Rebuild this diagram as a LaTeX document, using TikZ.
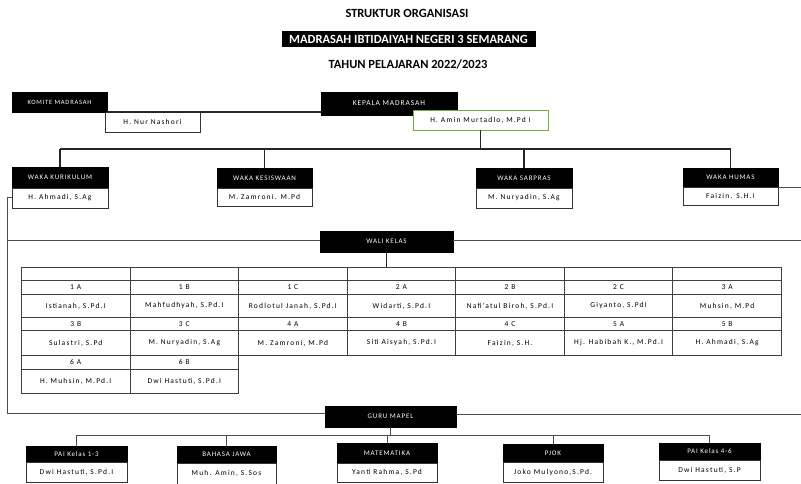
\documentclass[tikz,border=0pt]{standalone}
\usepackage{fontspec}
\setmainfont{Carlito}
\newfontfamily\spaced[LetterSpace=12]{Carlito}
\newfontfamily\wide[LetterSpace=16]{Carlito}
\usetikzlibrary{calc}
\definecolor{kgreen}{RGB}{112,173,71}
\begin{document}
\begin{tikzpicture}[x=1pt,y=-1pt,
  hdr/.style={fill=black, draw=black, text=white, inner sep=0pt, font=\fontsize{7}{8}\selectfont\spaced},
  nm/.style={fill=white, draw=black!80, line width=0.8pt, inner sep=0pt, font=\fontsize{7.5}{9}\selectfont\wide},
  cell/.style={draw=black!75, line width=0.9pt, anchor=north west, inner sep=0pt, minimum width=108.57pt, font=\fontsize{7.5}{9}\selectfont\wide},
  conn/.style={line width=1.6pt, draw=black!85},
  thin/.style={line width=1pt, draw=black!70}]
\useasboundingbox (0,0) rectangle (801,484);
% titles
\node[font=\fontsize{12.5}{14}\selectfont\bfseries] (t1) at (407,13) {STRUKTUR ORGANISASI};
\node[hdr, minimum width=253pt, minimum height=15pt, font=\fontsize{12.5}{13}\selectfont\bfseries] (t2) at (408.5,39) {MADRASAH IBTIDAIYAH NEGERI 3 SEMARANG};
\node[font=\fontsize{12.5}{14}\selectfont\bfseries] (t3) at (408,64) {TAHUN PELAJARAN 2022/2023};
% top row
\node[hdr, minimum width=95pt, minimum height=20pt, font=\fontsize{6.5}{7}\selectfont\spaced] (kom) at (59.5,102) {KOMITE MADRASAH};
\node[nm, minimum width=95pt, minimum height=20pt] (komn) at (152.5,122) {H. Nur Nashori};
\node[hdr, minimum width=136pt, minimum height=23pt, font=\fontsize{7.5}{8}\selectfont\spaced] (kep) at (389,103.5) {KEPALA MADRASAH};
\draw[conn] (kom.south east) -- (kep.west |- kom.south east);
\node[nm, draw=kgreen, minimum width=135pt, minimum height=20pt] (kepn) at (480.5,120) {H. Amin Murtadlo, M.Pd I};
% waka
\node[hdr, minimum width=96pt, minimum height=21pt] (wk1) at (60,177.5) {WAKA KURIKULUM};
\node[nm, minimum width=96pt, minimum height=20pt] (wk1n) at (60,198) {H. Ahmadi, S.Ag};
\node[hdr, minimum width=95pt, minimum height=20pt] (wk2) at (264.5,178) {WAKA KESISWAAN};
\node[nm, minimum width=95pt, minimum height=18pt] (wk2n) at (264.5,197) {M. Zamroni. M.Pd};
\node[hdr, minimum width=96pt, minimum height=20pt] (wk3) at (524,178) {WAKA SARPRAS};
\node[nm, minimum width=96pt, minimum height=20pt] (wk3n) at (524,198) {M. Nuryadin, S.Ag};
\node[hdr, minimum width=95pt, minimum height=19pt] (wk4) at (730.5,177.5) {WAKA HUMAS};
\node[nm, minimum width=95pt, minimum height=18pt] (wk4n) at (730.5,196) {Faizin. S.H.I};
\coordinate (hb) at (0,149);
\draw[conn] (wk1.north |- hb) -- (wk4.north |- hb);
\draw[conn] (kepn.south) -- (kepn.south |- hb);
\foreach \w in {wk1,wk2,wk3,wk4} \draw[conn] (\w.north) -- (\w.north |- hb);
\coordinate (rw) at (801,188);
\draw[thin] (rw -| wk4.east) -- (rw);
% wali kelas
\node[hdr, minimum width=133pt, minimum height=21pt] (wali) at (386.5,241.5) {WALI KELAS};
\coordinate (lt) at (7,198);
\coordinate (lm) at (7,240);
\coordinate (lb) at (7,413);
\coordinate (rm) at (801,240);
\coordinate (rg) at (801,414);
\draw[thin] (lm) -- (lm -| wali.west);
\draw[thin] (rm -| wali.east) -- (rm);
% table
\foreach \i in {0,...,6} \node[cell, minimum height=13pt] (h\i) at (21+\i*108.571,267) {};
\foreach \i/\lab/\nm in {0/1 A/{Istianah, S.Pd.I},1/1 B/{Mahfudhyah, S.Pd.I},2/1 C/{Rodlotul Janah, S.Pd.I},3/2 A/{Widarti, S.Pd.I},4/2 B/{Nafi’atul Biroh, S.Pd.I},5/2 C/{Giyanto, S.PdI},6/3 A/{Muhsin, M.Pd}}{
  \node[cell, minimum height=14pt] (la\i) at (21+\i*108.571,280) {\lab};
  \node[cell, minimum height=23pt] (na\i) at (21+\i*108.571,294) {\nm};
}
\foreach \i/\lab/\nm in {0/3 B/{Sulastri, S.Pd},1/3 C/{M. Nuryadin, S.Ag},2/4 A/{M. Zamroni, M.Pd},3/4 B/{Siti Aisyah, S.Pd.I},4/4 C/{Faizin, S.H.},5/5 A/{Hj. Habibah K., M.Pd.I},6/5 B/{H. Ahmadi, S.Ag}}{
  \node[cell, minimum height=13pt] (lb\i) at (21+\i*108.571,317) {\lab};
  \node[cell, minimum height=25pt] (nb\i) at (21+\i*108.571,330) {\nm};
}
\foreach \i/\lab/\nm in {0/6 A/{H. Muhsin, M.Pd.I},1/6 B/{Dwi Hastuti, S.Pd.I}}{
  \node[cell, minimum height=14pt] (lc\i) at (21+\i*108.571,355) {\lab};
  \node[cell, minimum height=24pt] (nc\i) at (21+\i*108.571,369) {\nm};
}
\draw[conn] (wali.south) -- (wali.south |- h3.north);
% guru mapel
\node[hdr, minimum width=131pt, minimum height=21pt] (guru) at (390.5,416.5) {GURU MAPEL};
\draw[thin] (wk1n.west) -- (lt) -- (lb) -- (lb -| guru.west);
\draw[thin] (rg -| guru.east) -- (rg);
\node[hdr, minimum width=101pt, minimum height=16pt] (g1) at (76.5,454) {PAI Kelas 1-3};
\node[nm, minimum width=101pt, minimum height=20pt] (g1n) at (76.5,472) {Dwi Hastuti, S.Pd.I};
\node[hdr, minimum width=99pt, minimum height=17pt] (g2) at (226.5,454.5) {BAHASA JAWA};
\node[nm, minimum width=99pt, minimum height=21pt] (g2n) at (226.5,473.5) {Muh. Amin, S.Sos};
\node[hdr, minimum width=100pt, minimum height=20pt] (g3) at (387,453) {MATEMATIKA};
\node[nm, minimum width=100pt, minimum height=19pt] (g3n) at (387,472.5) {Yanti Rahma, S.Pd};
\node[hdr, minimum width=100pt, minimum height=18pt] (g4) at (553,453) {PJOK};
\node[nm, minimum width=100pt, minimum height=20pt] (g4n) at (553,472) {Joko Mulyono,S.Pd.};
\node[hdr, minimum width=101pt, minimum height=17pt] (g5) at (709.5,451.5) {PAI Kelas 4-6};
\node[nm, minimum width=101pt, minimum height=20pt] (g5n) at (709.5,470) {Dwi Hastuti, S.P};
\coordinate (gb) at (0,435);
\draw[thin] (g1.north |- gb) -- (g5.north |- gb);
\draw[thin] (guru.south) -- (guru.south |- gb);
\foreach \g in {g1,g2,g3,g4,g5} \draw[thin] (\g.north) -- (\g.north |- gb);
\end{tikzpicture}
\end{document}
